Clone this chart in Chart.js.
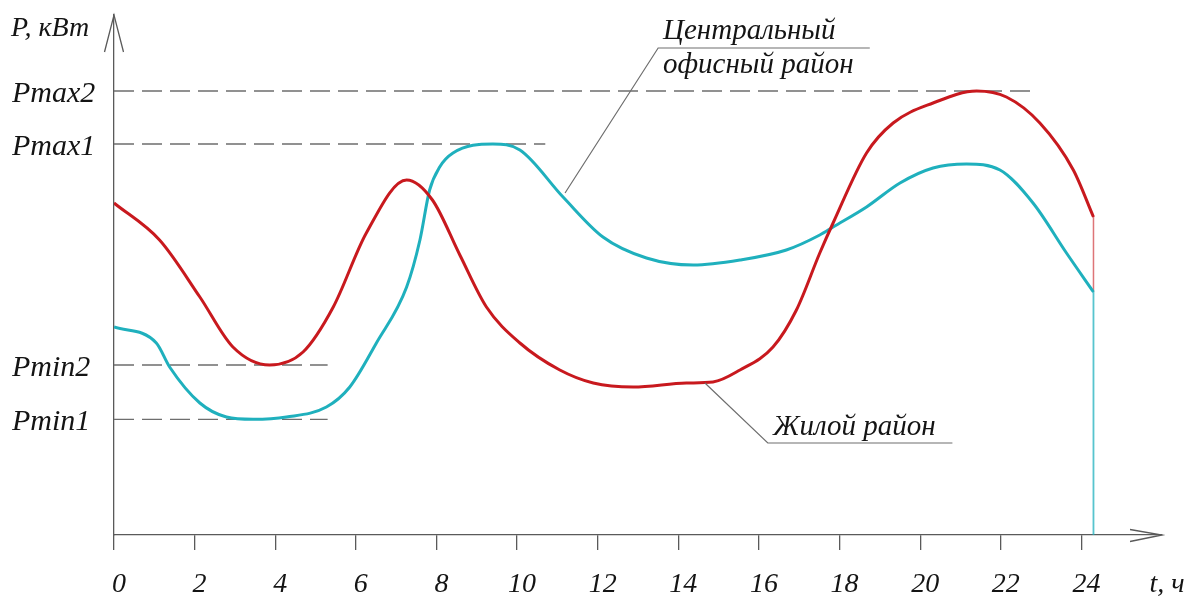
<!DOCTYPE html>
<html>
<head>
<meta charset="utf-8">
<script src="https://cdn.jsdelivr.net/npm/chart.js@4.4.1/dist/chart.umd.min.js"></script>
<style>
html,body{margin:0;padding:0;background:#ffffff;}
#wrap{width:1195px;height:597px;}
</style>
</head>
<body>
<div id="wrap"><canvas id="c" width="1195" height="597"></canvas></div>
<script>
// ---- data (hours, arbitrary power units) ----
const xTickValues = [0,2,4,6,8,10,12,14,16,18,20,22,24,26];
const xTickLabels = ['0','2','4','6','8','10','12','14','16','18','20','22','24','t, ч'];

const residentialHours = [0,1.13,2.13,2.95,3.86,4.69,5.44,6.26,7.26,7.9,8.58,9.24,10.07,11.06,11.89,12.88,14.2,14.86,15.53,16.35,16.93,17.51,17.84,18.67,19.33,20.32,21.4,22.14,22.97,23.8,24.3];
const residentialPower = [33.2,29.5,23.8,18.8,17.0,18.3,22.8,30.2,35.5,33.5,28.0,22.8,19.2,16.5,15.2,14.8,15.2,15.3,16.5,18.8,22.5,28.2,31.2,38.2,41.2,43.2,44.4,43.8,41.2,36.5,31.8];
const residentialDropHours = [24.3,24.3];
const residentialDropPower = [31.8,24.3];

const officeHours = [0,1.05,1.38,2.13,2.79,3.45,4.28,5.27,5.85,6.51,7.26,7.59,7.83,8.08,8.41,9.4,10.07,11.14,12.13,13.21,14.37,15.53,16.68,17.51,17.84,18.67,19.5,20.32,21.15,21.98,22.8,23.63,24.3];
const officePower = [20.8,19.2,16.8,13.2,11.8,11.57,11.8,12.8,14.8,19.2,24.8,29.5,34.5,36.8,38.2,39.1,38.5,33.8,29.8,27.7,27.0,27.5,28.5,30.0,30.8,32.8,35.2,36.7,37.1,36.5,33.2,28.2,24.3];
const officeDropHours = [24.3,24.3];
const officeDropPower = [24.3,0];

const levelNames = ['Pmin1','Pmin2','Pmax1','Pmax2'];
const levelValues = [11.57,17.0,39.1,44.4];
const levelEndHours = [5.3,5.3,10.7,22.9];

const seriesNames = ['Жилой район','Центральный офисный район'];

// ---- styles / annotation geometry (data units) ----
const RED = '#c8191e', CYAN = '#1fb0bd', GREY = '#6e6e6e', TEXT = '#141414';
const FONT = 'italic 29px "Liberation Serif", "Times New Roman", serif';
const officeLeader = [[11.19,34.2],[13.5,48.7],[18.75,48.7]];
const residentialLeader = [[14.66,15.2],[16.22,9.2],[20.8,9.2]];

function pts(xs, ys){ return xs.map((x,i)=>({x:x,y:ys[i]})); }

const datasets = [
  {label: seriesNames[0], data: pts(residentialHours,residentialPower), borderColor: RED, borderWidth: 3, pointRadius: 0, cubicInterpolationMode: 'monotone', fill:false},
  {label: seriesNames[1], data: pts(officeHours,officePower), borderColor: CYAN, borderWidth: 3, pointRadius: 0, cubicInterpolationMode: 'monotone', fill:false},
  {label: 'drop1', data: pts(residentialDropHours,residentialDropPower), borderColor: 'rgba(200,25,30,0.6)', borderWidth: 1.5, pointRadius: 0, tension: 0},
  {label: 'drop2', data: pts(officeDropHours,officeDropPower), borderColor: 'rgba(31,176,189,0.75)', borderWidth: 1.8, pointRadius: 0, tension: 0}
];
levelNames.forEach((n,i)=>{
  datasets.push({label: n, data: [{x:0,y:levelValues[i]},{x:levelEndHours[i],y:levelValues[i]}], borderColor: GREY, borderWidth: 1.3, borderDash:[20,8], pointRadius:0, tension:0});
});

const decor = {
  id: 'decor',
  afterDatasetsDraw(chart){
    const ctx = chart.ctx, xs = chart.scales.x, ys = chart.scales.y, a = chart.chartArea;
    const px = v => xs.getPixelForValue(v), py = v => ys.getPixelForValue(v);
    ctx.save();
    // leaders
    ctx.strokeStyle = GREY; ctx.lineWidth = 1.2;
    [officeLeader, residentialLeader].forEach(L=>{
      ctx.beginPath();
      L.forEach((p,i)=>{ const X=px(p[0]), Y=py(p[1]); if(i) ctx.lineTo(X,Y); else ctx.moveTo(X,Y); });
      ctx.stroke();
    });
    // arrows
    ctx.strokeStyle = '#5a5a5a'; ctx.lineWidth = 1.3;
    ctx.beginPath();
    ctx.moveTo(a.left-9.5, a.top+37); ctx.lineTo(a.left, a.top); ctx.lineTo(a.left+9.5, a.top+37);
    ctx.moveTo(a.right-32, a.bottom-5.5); ctx.lineTo(a.right, a.bottom); ctx.lineTo(a.right-32, a.bottom+6.5);
    ctx.stroke();
    // texts
    ctx.fillStyle = TEXT; ctx.font = FONT; ctx.textAlign = 'left'; ctx.textBaseline = 'alphabetic';
    ctx.fillText('Центральный', px(13.62), py(49.65));
    ctx.fillText('офисный район', px(13.62), py(46.25));
    ctx.fillText('Жилой район', px(16.35), py(10.0));
    ctx.font = 'italic 28px "Liberation Serif", "Times New Roman", serif';
    ctx.fillText('P, кВт', 11, a.top + 21);
    ctx.restore();
  }
};

new Chart(document.getElementById('c'), {
  type: 'line',
  data: {datasets},
  options: {
    responsive: false,
    devicePixelRatio: 1,
    animation: false,
    layout: {padding: {top: 15, right: 33, left: 12, bottom: 0}},
    plugins: {legend: {display:false}, tooltip: {enabled:false}},
    elements: {line: {borderCapStyle:'butt'}},
    scales: {
      x: {
        type: 'linear', min: 0, max: 26,
        afterBuildTicks: s => { s.ticks = xTickValues.map(v=>({value:v})); },
        afterFit: s => { s.height = 62; s.paddingLeft = 0; s.paddingRight = 0; },
        ticks: {autoSkip:false, maxRotation:0, padding: 18, color: TEXT, labelOffset: 5,
                font: {family:'"Liberation Serif"', style:'italic', size:28},
                callback: (v,i) => xTickLabels[i]},
        grid: {drawOnChartArea:false, drawTicks:true, tickLength:15, lineWidth:1.3,
               color: c => (c.tick && c.tick.value===26) ? 'rgba(0,0,0,0)' : '#5a5a5a'},
        border: {display:true, color:'#5a5a5a', width:1.3}
      },
      y: {
        type: 'linear', min: 0, max: 52,
        afterBuildTicks: s => { s.ticks = levelValues.map(v=>({value:v})); },
        afterFit: s => { s.width = 102; s.paddingTop = 0; s.paddingBottom = 0; },
        ticks: {padding: 20, crossAlign: 'far', labelOffset: 3, color: TEXT,
                font: {family:'"Liberation Serif"', style:'italic', size:30},
                callback: (v,i) => levelNames[i]},
        grid: {display:false, drawTicks:false},
        border: {display:true, color:'#5a5a5a', width:1.3}
      }
    }
  },
  plugins: [decor]
});
</script>
</body>
</html>
